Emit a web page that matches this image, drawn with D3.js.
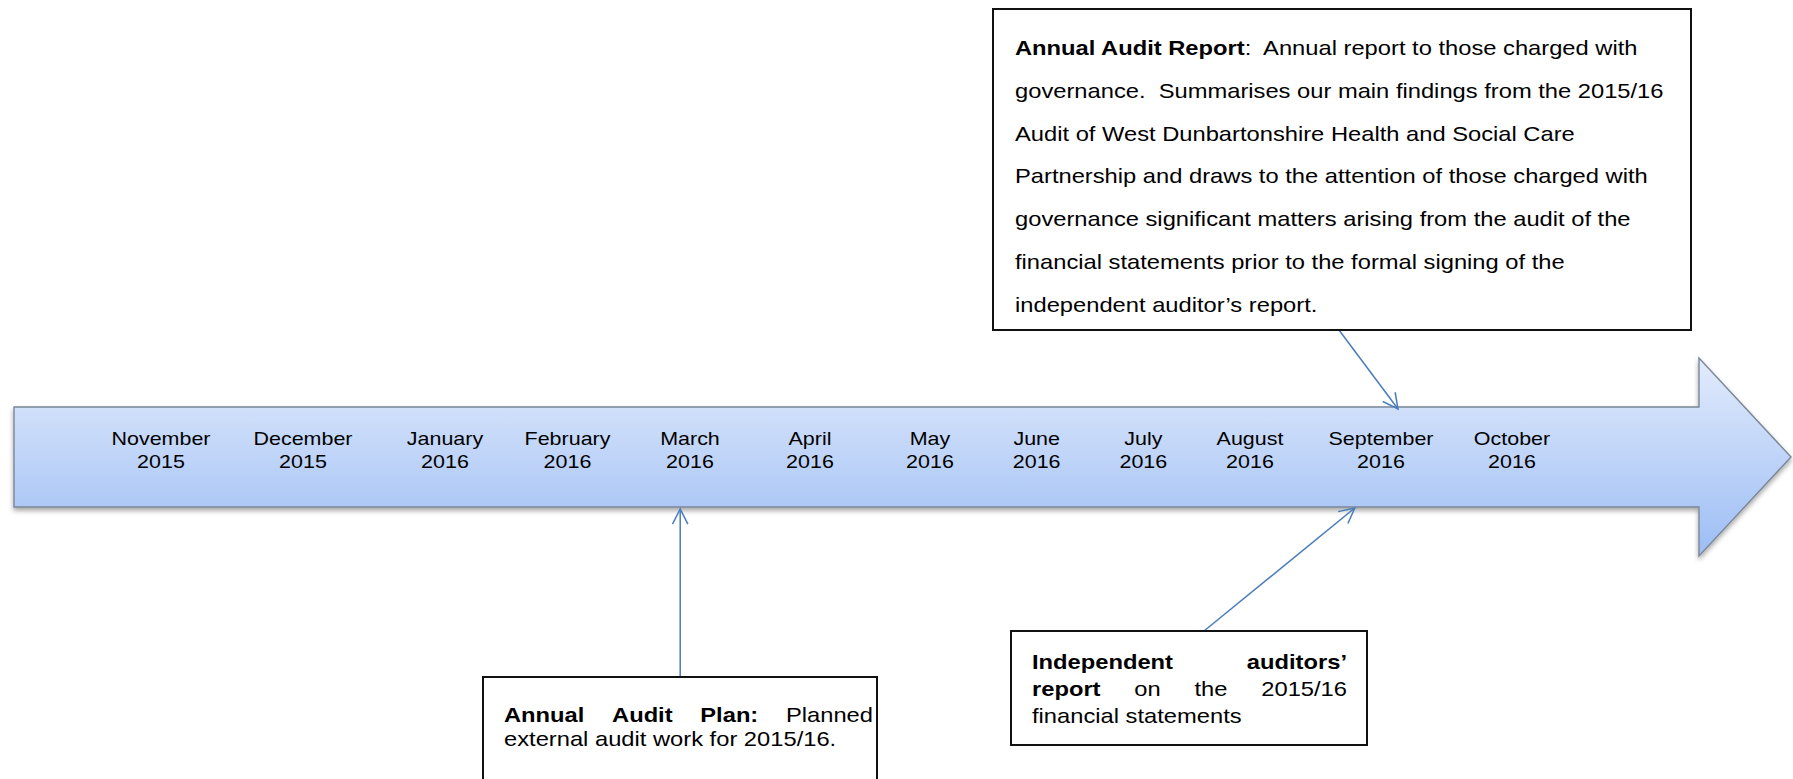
<!DOCTYPE html>
<html>
<head>
<meta charset="utf-8">
<script src="https://cdn.jsdelivr.net/npm/d3@7/dist/d3.min.js"></script>
<style>
  html, body { margin: 0; padding: 0; background: #ffffff; }
  svg { display: block; }
  text { font-family: "Liberation Sans", Arial, sans-serif; fill: #000; white-space: pre; }
</style>
</head>
<body>
<script>
// ---------- DATA ----------
const months = ["November", "December", "January", "February", "March", "April",
                "May", "June", "July", "August", "September", "October"];
const years  = ["2015", "2015", "2016", "2016", "2016", "2016",
                "2016", "2016", "2016", "2016", "2016", "2016"];

// month index (0 = November 2015) at which each event points on the timeline
const eventNames  = ["Annual Audit Plan", "Independent auditors' report", "Annual Audit Report"];
const eventMonths = [3.92, 9.8, 10.13];

const planLines = [
  { justify: true,  words: [["Annual", 1], ["Audit", 1], ["Plan:", 1], ["Planned", 0]] },
  { justify: false, segs: [["external audit work for 2015/16.", 0]] }
];
const opinionLines = [
  { justify: true,  words: [["Independent", 1], ["auditors\u2019", 1]] },
  { justify: true,  words: [["report", 1], ["on", 0], ["the", 0], ["2015/16", 0]] },
  { justify: false, segs: [["financial statements", 0]] }
];
const reportLines = [
  { justify: false, segs: [["Annual Audit Report", 1], [":  Annual report to those charged with", 0]] },
  { justify: false, segs: [["governance.  Summarises our main findings from the 2015/16", 0]] },
  { justify: false, segs: [["Audit of West Dunbartonshire Health and Social Care", 0]] },
  { justify: false, segs: [["Partnership and draws to the attention of those charged with", 0]] },
  { justify: false, segs: [["governance significant matters arising from the audit of the", 0]] },
  { justify: false, segs: [["financial statements prior to the formal signing of the", 0]] },
  { justify: false, segs: [["independent auditor\u2019s report.", 0]] }
];

// ---------- LAYOUT ----------
const W = 1793, H = 779;
const SX = 1.13;               // horizontal stretch of the original picture's text
const svg = d3.select("body").append("svg").attr("width", W).attr("height", H);

const x = d3.scaleLinear().domain([0, 2, 4, 6, 9, 11]).range([161, 445, 690, 930, 1250, 1512]);
const y = d3.scaleLinear().domain([0, 1]).range([407, 507]);   // timeline band: 0 = top, 1 = bottom

const defs = svg.append("defs");
const grad = defs.append("linearGradient").attr("id", "band")
  .attr("gradientUnits", "userSpaceOnUse").attr("x1", 0).attr("x2", 0).attr("y1", 358).attr("y2", 556);
grad.append("stop").attr("offset", "0%").attr("stop-color", "#e2ebfc");
grad.append("stop").attr("offset", "100%").attr("stop-color", "#9cbdf4");
const f = defs.append("filter").attr("id", "shadow").attr("x", "-5%").attr("y", "-20%").attr("width", "110%").attr("height", "150%");
f.append("feDropShadow").attr("dx", 0).attr("dy", 3).attr("stdDeviation", 2.5)
  .attr("flood-color", "#000").attr("flood-opacity", 0.35);

// big timeline arrow
const bodyL = 14, bodyR = 1699, tipX = 1791, headTop = 358, headBot = 556;
const arrowPts = [
  [bodyL, y(0)], [bodyR, y(0)], [bodyR, headTop], [tipX, (y(0) + y(1)) / 2],
  [bodyR, headBot], [bodyR, y(1)], [bodyL, y(1)]
];
svg.append("path")
  .attr("d", d3.line()(arrowPts) + "Z")
  .attr("fill", "url(#band)")
  .attr("stroke", "#7b8797")
  .attr("stroke-width", 1.4)
  .attr("filter", "url(#shadow)");

// month labels
const monthG = svg.append("g").attr("font-size", 19);
months.forEach((m, i) => {
  const t = monthG.append("text")
    .attr("text-anchor", "middle")
    .attr("transform", `translate(${x(i)},445) scale(${SX},1)`);
  t.append("tspan").attr("x", 0).attr("y", 0).text(m);
  t.append("tspan").attr("x", 0).attr("y", 23).text(years[i]);
});

// ---------- text helpers ----------
function plainLine(g, segs, x0, yb, size) {
  const t = g.append("text").attr("font-size", size)
    .attr("transform", `translate(${x0},${yb}) scale(${SX},1)`);
  segs.forEach(s => t.append("tspan").attr("font-weight", s[1] ? "bold" : "normal").text(s[0]));
}
function justifiedLine(g, words, x0, x1, yb, size) {
  const lg = g.append("g").attr("transform", `translate(${x0},${yb}) scale(${SX},1)`);
  const els = words.map(w => lg.append("text").attr("font-size", size)
    .attr("font-weight", w[1] ? "bold" : "normal").text(w[0]));
  const widths = els.map(e => e.node().getComputedTextLength());
  const total = d3.sum(widths);
  const gap = ((x1 - x0) / SX - total) / (els.length - 1);
  let cx = 0;
  els.forEach((e, i) => { e.attr("x", cx); cx += widths[i] + gap; });
}
function drawBox(box, lines) {
  const g = svg.append("g");
  g.append("rect").attr("x", box.x).attr("y", box.y).attr("width", box.w).attr("height", box.h)
    .attr("fill", "#fff").attr("stroke", "#111").attr("stroke-width", 2);
  lines.forEach((ln, i) => {
    const yb = box.base + i * box.lh;
    if (ln.justify) justifiedLine(g, ln.words, box.tx0, box.tx1, yb, box.size);
    else plainLine(g, ln.segs, box.tx0, yb, box.size);
  });
}
function connector(from, to) {
  const g = svg.append("g").attr("stroke", "#4a7dbb").attr("stroke-width", 1.5).attr("fill", "none");
  g.append("line").attr("x1", from[0]).attr("y1", from[1]).attr("x2", to[0]).attr("y2", to[1]);
  const ang = Math.atan2(to[1] - from[1], to[0] - from[0]);
  const L = 17, a = 0.47;
  const p1 = [to[0] - L * Math.cos(ang - a), to[1] - L * Math.sin(ang - a)];
  const p2 = [to[0] - L * Math.cos(ang + a), to[1] - L * Math.sin(ang + a)];
  g.append("path").attr("d", d3.line()([p1, to, p2]));
}

// ---------- event boxes ----------
const planBox    = { x: 483,  y: 677, w: 394, h: 140, tx0: 504,  tx1: 873,  base: 722, lh: 24,   size: 21 };
const opinionBox = { x: 1011, y: 631, w: 356, h: 114, tx0: 1032, tx1: 1347, base: 669, lh: 27,   size: 21 };
const reportBox  = { x: 993,  y: 9,   w: 698, h: 321, tx0: 1015, tx1: 1670, base: 55,  lh: 42.8, size: 21 };

// connectors (from box edge to the event's month on the timeline)
connector([x(eventMonths[0]), planBox.y], [x(eventMonths[0]), y(1) + 2]);
connector([1204, opinionBox.y], [x(eventMonths[1]), y(1) + 1]);
connector([1339, reportBox.y + reportBox.h], [x(eventMonths[2]), y(0) + 2]);

drawBox(planBox, planLines);
drawBox(opinionBox, opinionLines);
drawBox(reportBox, reportLines);
</script>
</body>
</html>
